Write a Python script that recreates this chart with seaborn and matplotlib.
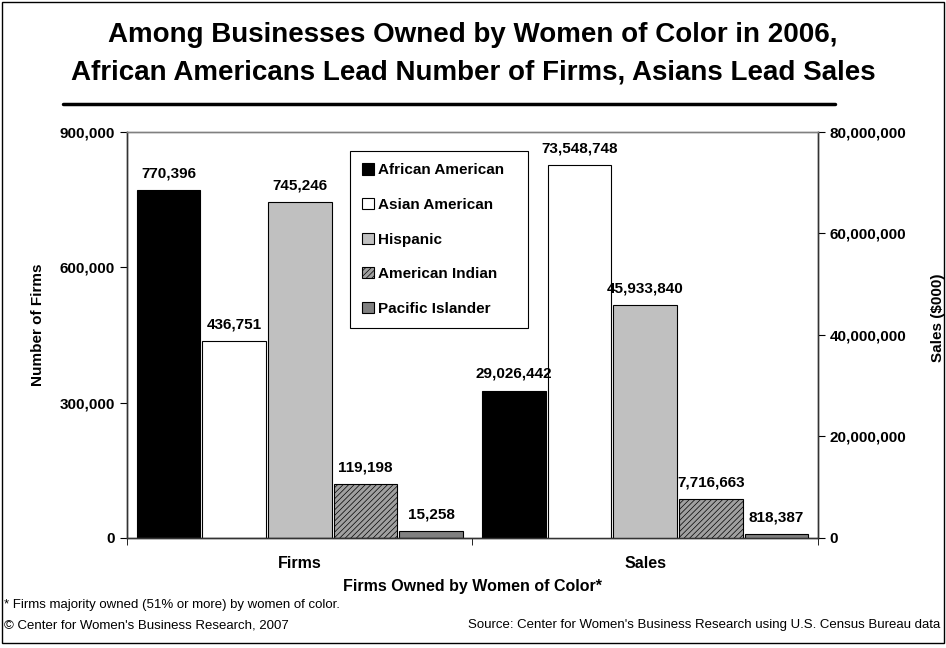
import pandas as pd
import seaborn as sns
import matplotlib.pyplot as plt
from matplotlib.patches import Rectangle
from matplotlib.lines import Line2D
from matplotlib.ticker import FuncFormatter

groups = ['African American', 'Asian American', 'Hispanic', 'American Indian', 'Pacific Islander']
measures = ['Firms', 'Sales']
firms = [770396, 436751, 745246, 119198, 15258]
sales = [29026442, 73548748, 45933840, 7716663, 818387]
colors = ['black', 'white', '#c0c0c0', '#a0a0a0', '#808080']

df_firms = pd.DataFrame({'Measure': 'Firms', 'Group': groups, 'Value': firms})
df_sales = pd.DataFrame({'Measure': 'Sales', 'Group': groups, 'Value': sales})

sns.set_style('ticks')
plt.rcParams['font.family'] = ['Liberation Sans', 'DejaVu Sans']
plt.rcParams['hatch.linewidth'] = 0.5
for k in ['text.color', 'axes.labelcolor', 'xtick.color', 'ytick.color']:
    plt.rcParams[k] = 'black'

fig = plt.figure(figsize=(9.46, 6.48), dpi=100)
ax1 = fig.add_axes([0.1342, 0.1698, 0.7305, 0.6265])
ax2 = ax1.twinx()

sns.barplot(data=df_firms, x='Measure', y='Value', hue='Group', order=measures,
            hue_order=groups, palette=colors, width=0.95, gap=0.03, edgecolor='black',
            linewidth=0.8, ax=ax1, legend=False)
sns.barplot(data=df_sales, x='Measure', y='Value', hue='Group', order=measures,
            hue_order=groups, palette=colors, width=0.95, gap=0.03, edgecolor='black',
            linewidth=0.8, ax=ax2, legend=False)

# hatch the American Indian bars
for ax in (ax1, ax2):
    for p in ax.containers[3].patches:
        p.set_hatch('//////')
    for c in ax.containers:
        ax.bar_label(c, labels=[f'{v:,.0f}' for v in c.datavalues], padding=7,
                     fontsize=11, fontweight='bold')

ax1.set_ylim(0, 900000)
ax1.set_yticks([0, 300000, 600000, 900000])
ax2.set_ylim(0, 80000000)
ax2.set_yticks([0, 20000000, 40000000, 60000000, 80000000])
fmt = FuncFormatter(lambda v, p: f'{v:,.0f}')
ax1.yaxis.set_major_formatter(fmt)
ax2.yaxis.set_major_formatter(fmt)
ax1.set_xlim(-0.5, 1.5)
ax2.set_xlim(-0.5, 1.5)

ax1.set_xlabel('')
ax1.set_ylabel('')
ax2.set_xlabel('')
ax2.set_ylabel('')

ax1.set_xticks([0, 1])
ax1.set_xticks([-0.5, 0.5, 1.5], minor=True)
ax1.tick_params(axis='x', which='major', length=0, pad=13, labelsize=11.5)
ax1.tick_params(axis='x', which='minor', length=5, direction='out')
for t in ax1.get_xticklabels():
    t.set_fontweight('bold')
ax1.tick_params(axis='y', length=5, direction='out', labelsize=11)
ax2.tick_params(axis='y', length=5, direction='out', labelsize=11)
for t in ax1.get_yticklabels() + ax2.get_yticklabels():
    t.set_fontweight('bold')

for ax in (ax1, ax2):
    for s in ax.spines.values():
        s.set_visible(True)
        s.set_color('#333333')
        s.set_linewidth(1)
    ax.spines['top'].set_color('#808080')

handles = [c.patches[0] for c in ax1.containers]
leg = ax2.legend(handles, groups, loc='upper left',
                 bbox_to_anchor=(0.323, 0.4, 0.258, 0.553), mode='expand',
                 borderaxespad=0, frameon=True, fancybox=False, framealpha=1,
                 edgecolor='black', handlelength=0.75, handleheight=0.75,
                 handletextpad=0.3, labelspacing=1.35, borderpad=0.8,
                 prop={'weight': 'bold', 'size': 11})
leg.get_frame().set_linewidth(0.8)

fig.text(0.5, 1 - 35 / 648, 'Among Businesses Owned by Women of Color in 2006,',
         ha='center', va='center', fontsize=20, fontweight='bold')
fig.text(0.5, 1 - 72 / 648, 'African Americans Lead Number of Firms, Asians Lead Sales',
         ha='center', va='center', fontsize=20, fontweight='bold')
fig.add_artist(Line2D([63 / 946, 835 / 946], [1 - 104 / 648, 1 - 104 / 648],
                      color='black', lw=2.5, transform=fig.transFigure))

fig.text(38 / 946, 1 - 325 / 648, 'Number of Firms', rotation=90, ha='center',
         va='center', fontsize=11, fontweight='bold')
fig.text(938 / 946, 1 - 318 / 648, 'Sales ($000)', rotation=90, ha='center',
         va='center', fontsize=11, fontweight='bold')
fig.text(472 / 946, 1 - 586 / 648, 'Firms Owned by Women of Color*', ha='center',
         va='center', fontsize=11.5, fontweight='bold')
fig.text(4 / 946, 1 - 605 / 648, '* Firms majority owned (51% or more) by women of color.',
         ha='left', va='center', fontsize=9.5)
fig.text(4 / 946, 1 - 625 / 648, '\u00a9 Center for Women\'s Business Research, 2007',
         ha='left', va='center', fontsize=9.5)
fig.text(940 / 946, 1 - 625 / 648,
         'Source: Center for Women\'s Business Research using U.S. Census Bureau data',
         ha='right', va='center', fontsize=9.5)

fig.patches.append(Rectangle((2 / 946, 5 / 648), 942 / 946, 641 / 648, fill=False,
                             edgecolor='black', lw=1, transform=fig.transFigure))

fig.savefig('out.png', dpi=100)
